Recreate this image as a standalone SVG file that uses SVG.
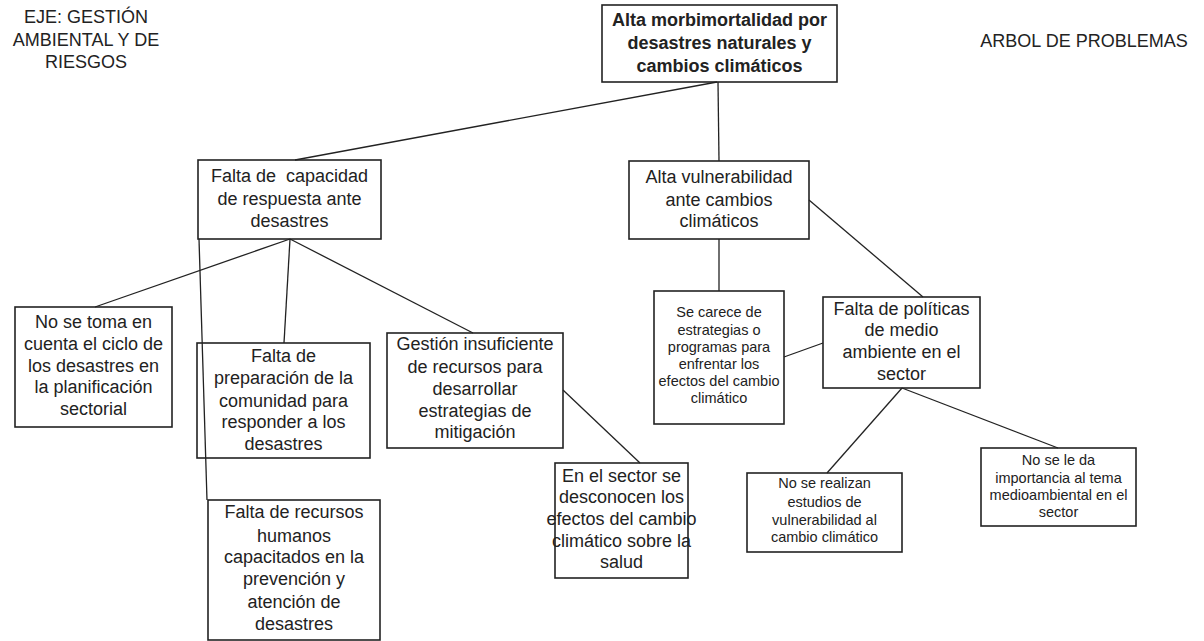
<svg xmlns="http://www.w3.org/2000/svg" width="1204" height="641" viewBox="0 0 1204 641">
<style>
.box{fill:none;stroke:#222;stroke-width:1.6}
.t{font-family:"Liberation Sans",Arial,sans-serif;font-size:18px;fill:#222;text-anchor:middle}
.b{font-weight:bold}
.s{font-size:14.5px}
.c line{stroke:#222;stroke-width:1.3}
</style>
<rect width="1204" height="641" fill="#fff"/>
<g id="title-left">
<text class="t" x="86" y="23">EJE: GESTIÓN</text>
<text class="t" x="86" y="46">AMBIENTAL Y DE</text>
<text class="t" x="86" y="68">RIESGOS</text>
</g>
<g id="title-right">
<text class="t" x="1084" y="47">ARBOL DE PROBLEMAS</text>
</g>
<g class="c" id="connectors">
<line x1="717" y1="82" x2="295" y2="160"/>
<line x1="718" y1="82" x2="719" y2="161"/>
<line x1="290" y1="239" x2="95" y2="307"/>
<line x1="290" y1="239" x2="284" y2="343"/>
<line x1="290" y1="239" x2="473" y2="333"/>
<line x1="199" y1="239" x2="207" y2="500"/>
<line x1="563" y1="390" x2="640" y2="463"/>
<line x1="719" y1="239" x2="719" y2="291"/>
<line x1="809" y1="200" x2="923" y2="297"/>
<line x1="784" y1="357" x2="823" y2="343"/>
<line x1="902" y1="388" x2="827" y2="473"/>
<line x1="902" y1="388" x2="1058" y2="448"/>
</g>
<g id="n-root">
<rect class="box" x="602" y="5" width="235" height="77"/>
<text class="t b" x="719.5" y="26">Alta morbimortalidad por</text>
<text class="t b" x="719.5" y="49">desastres naturales y</text>
<text class="t b" x="719.5" y="72">cambios climáticos</text>
</g>
<g id="n-capacidad">
<rect class="box" x="198" y="160" width="183" height="79"/>
<text class="t" x="289.5" y="182" xml:space="preserve">Falta de  capacidad</text>
<text class="t" x="289.5" y="205">de respuesta ante</text>
<text class="t" x="289.5" y="227">desastres</text>
</g>
<g id="n-vulnerabilidad">
<rect class="box" x="629" y="161" width="180" height="78"/>
<text class="t" x="719" y="183">Alta vulnerabilidad</text>
<text class="t" x="719" y="206">ante cambios</text>
<text class="t" x="719" y="227">climáticos</text>
</g>
<g id="n-ciclo">
<rect class="box" x="15" y="307" width="157" height="120"/>
<text class="t" x="93.5" y="328">No se toma en</text>
<text class="t" x="93.5" y="350">cuenta el ciclo de</text>
<text class="t" x="93.5" y="372">los desastres en</text>
<text class="t" x="93.5" y="393">la planificación</text>
<text class="t" x="93.5" y="415">sectorial</text>
</g>
<g id="n-preparacion">
<rect class="box" x="197" y="343" width="173" height="115"/>
<text class="t" x="283.5" y="362">Falta de</text>
<text class="t" x="283.5" y="384">preparación de la</text>
<text class="t" x="283.5" y="407">comunidad para</text>
<text class="t" x="283.5" y="428">responder a los</text>
<text class="t" x="283.5" y="450">desastres</text>
</g>
<g id="n-gestion">
<rect class="box" x="387" y="333" width="176" height="115"/>
<text class="t" x="475" y="350">Gestión insuficiente</text>
<text class="t" x="475" y="373">de recursos para</text>
<text class="t" x="475" y="395">desarrollar</text>
<text class="t" x="475" y="417">estrategias de</text>
<text class="t" x="475" y="438">mitigación</text>
</g>
<g id="n-recursos">
<rect class="box" x="208" y="500" width="172" height="140"/>
<text class="t" x="294" y="518">Falta de recursos</text>
<text class="t" x="294" y="542">humanos</text>
<text class="t" x="294" y="563">capacitados en la</text>
<text class="t" x="294" y="585">prevención y</text>
<text class="t" x="294" y="608">atención de</text>
<text class="t" x="294" y="630">desastres</text>
</g>
<g id="n-sector">
<rect class="box" x="555" y="463" width="133" height="115"/>
<text class="t" x="621.5" y="482">En el sector se</text>
<text class="t" x="621.5" y="503">desconocen los</text>
<text class="t" x="621.5" y="525">efectos del cambio</text>
<text class="t" x="621.5" y="547">climático sobre la</text>
<text class="t" x="621.5" y="568">salud</text>
</g>
<g id="n-estrategias">
<rect class="box" x="654" y="291" width="130" height="133"/>
<text class="t s" x="719" y="317">Se carece de</text>
<text class="t s" x="719" y="335">estrategias o</text>
<text class="t s" x="719" y="352">programas para</text>
<text class="t s" x="719" y="369">enfrentar los</text>
<text class="t s" x="719" y="386">efectos del cambio</text>
<text class="t s" x="719" y="403">climático</text>
</g>
<g id="n-politicas">
<rect class="box" x="823" y="297" width="157" height="91"/>
<text class="t" x="901.5" y="315">Falta de políticas</text>
<text class="t" x="901.5" y="336">de medio</text>
<text class="t" x="901.5" y="358">ambiente en el</text>
<text class="t" x="901.5" y="380">sector</text>
</g>
<g id="n-estudios">
<rect class="box" x="747" y="473" width="155" height="79"/>
<text class="t s" x="824.5" y="488">No se realizan</text>
<text class="t s" x="824.5" y="507">estudios de</text>
<text class="t s" x="824.5" y="525">vulnerabilidad al</text>
<text class="t s" x="824.5" y="542">cambio climático</text>
</g>
<g id="n-importancia">
<rect class="box" x="981" y="448" width="155" height="78"/>
<text class="t s" x="1058.5" y="465">No se le da</text>
<text class="t s" x="1058.5" y="483">importancia al tema</text>
<text class="t s" x="1058.5" y="500">medioambiental en el</text>
<text class="t s" x="1058.5" y="517">sector</text>
</g>
</svg>
